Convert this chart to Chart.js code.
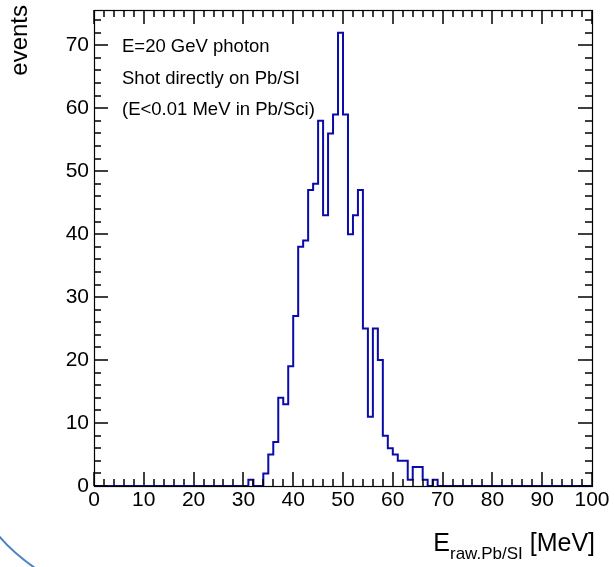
<!DOCTYPE html>
<html>
<head>
<meta charset="utf-8">
<script src="https://cdn.jsdelivr.net/npm/chart.js@4"></script>
<style>
html,body{margin:0;padding:0;background:#fff;}
canvas{display:block;}
</style>
</head>
<body>
<canvas id="c" width="614" height="567"></canvas>
<script>
// Histogram: 100 bins of width 1 MeV from 0 to 100
const binLow = 0;
const binHigh = 100;
const nBins = 100;
// non-zero bin contents (bin index -> events)
const filledBins =   [31, 34, 35, 36, 37, 38, 39, 40, 41, 42, 43, 44, 45, 46, 47, 48, 49, 50, 51, 52, 53, 54, 55, 56, 57, 58, 59, 60, 61, 62, 63, 64, 65, 66, 68];
const filledCounts = [ 1,  2,  5,  7, 14, 13, 19, 27, 38, 39, 47, 48, 58, 43, 56, 59, 72, 59, 40, 43, 47, 25, 11, 25, 20,  8,  6,  5,  4,  4,  1,  3,  3,  1,  1];
const xTickLabels = [0, 10, 20, 30, 40, 50, 60, 70, 80, 90, 100];
const yTickLabels = [0, 10, 20, 30, 40, 50, 60, 70];
const yMax = 75.6;
const infoLines = ["E=20 GeV photon", "Shot directly on Pb/SI", "(E<0.01 MeV in Pb/Sci)"];
const yTitle = "events";
const xTitleMain = "E";
const xTitleSub = "raw.Pb/SI";
const xTitleUnit = " [MeV]";

const counts = new Array(nBins).fill(0);
filledBins.forEach((b, i) => { counts[b] = filledCounts[i]; });
const points = [];
for (let i = 0; i < nBins; i++) points.push({x: binLow + i, y: counts[i]});
points.push({x: binHigh, y: counts[nBins - 1]});

const FONT = '"Liberation Sans", Arial, Helvetica, sans-serif';

function drawFrame(chart) {
  const ctx = chart.ctx, a = chart.chartArea;
  const xs = chart.scales.x, ys = chart.scales.y;
  const L = Math.round(a.left), R = Math.round(a.right), T = Math.round(a.top), B = Math.round(a.bottom);
  ctx.save();
  ctx.strokeStyle = '#000000';
  ctx.lineWidth = 1.5;
  ctx.setLineDash([]);
  ctx.lineCap = 'butt';
  ctx.beginPath();
  for (let k = 0; k <= 50; k++) {
    const v = binLow + 2 * k;
    const px = Math.round(xs.getPixelForValue(v));
    const len = (v % 10 === 0) ? 14 : 7;
    ctx.moveTo(px, B); ctx.lineTo(px, B - len);
    ctx.moveTo(px, T); ctx.lineTo(px, T + len);
  }
  for (let k = 0; k <= 37; k++) {
    const v = 2 * k;
    const py = Math.round(ys.getPixelForValue(v));
    const len = (v % 10 === 0) ? 14 : 7;
    ctx.moveTo(L, py); ctx.lineTo(L + len, py);
    ctx.moveTo(R, py); ctx.lineTo(R - len, py);
  }
  ctx.stroke();
  ctx.lineWidth = 1.2;
  ctx.strokeRect(L + 0.5, T + 0.5, R - L, B - T);
  ctx.restore();
}

const framePlugin = {
  id: 'frame',
  afterDraw(chart) {
    drawFrame(chart);
    const ctx = chart.ctx;
    ctx.save();
    ctx.fillStyle = '#000';
    // info text
    ctx.font = '18.5px ' + FONT;
    ctx.textAlign = 'left';
    ctx.textBaseline = 'alphabetic';
    infoLines.forEach((t, i) => ctx.fillText(t, 122, 52 + i * 31.5));
    // x title
    ctx.font = '25px ' + FONT;
    const wE = ctx.measureText(xTitleMain).width;
    const wU = ctx.measureText(xTitleUnit).width;
    ctx.font = '17px ' + FONT;
    const wS = ctx.measureText(xTitleSub).width;
    const right = 595;
    let x0 = right - (wE + wS + wU);
    ctx.font = '25px ' + FONT;
    ctx.fillText(xTitleMain, x0, 551);
    ctx.font = '17px ' + FONT;
    ctx.fillText(xTitleSub, x0 + wE, 559);
    ctx.font = '25px ' + FONT;
    ctx.fillText(xTitleUnit, x0 + wE + wS, 551);
    // y title
    ctx.save();
    ctx.translate(27, 5);
    ctx.rotate(-Math.PI / 2);
    ctx.font = '24px ' + FONT;
    ctx.textAlign = 'right';
    ctx.fillText(yTitle, 0, 0);
    ctx.restore();
    // decorative arc at bottom-left
    ctx.strokeStyle = '#4b82c6';
    ctx.lineWidth = 2;
    ctx.beginPath();
    ctx.moveTo(-2, 535);
    ctx.quadraticCurveTo(13, 553, 35, 568);
    ctx.stroke();
    ctx.restore();
  }
};

new Chart(document.getElementById('c'), {
  type: 'line',
  data: {
    datasets: [{
      data: points,
      stepped: 'before',
      borderColor: '#0b0baa',
      borderWidth: 2,
      pointRadius: 0,
      fill: false,
      tension: 0
    }]
  },
  options: {
    responsive: false,
    animation: false,
    devicePixelRatio: 1,
    layout: { padding: { left: 0, right: 22, top: 10, bottom: 0 } },
    plugins: { legend: { display: false }, tooltip: { enabled: false } },
    scales: {
      x: {
        type: 'linear', min: binLow, max: binHigh,
        afterBuildTicks: s => { s.ticks = xTickLabels.map(v => ({value: v})); },
        afterFit: s => { s.height = 81; s.paddingLeft = 0; s.paddingRight = 0; },
        grid: { display: false, drawTicks: false },
        border: { display: false },
        ticks: { color: '#000', font: { family: FONT, size: 21 }, padding: 2, maxRotation: 0, autoSkip: false }
      },
      y: {
        type: 'linear', min: 0, max: yMax,
        afterBuildTicks: s => { s.ticks = yTickLabels.map(v => ({value: v})); },
        afterFit: s => { s.width = 94; s.paddingTop = 0; s.paddingBottom = 0; },
        grid: { display: false, drawTicks: false },
        border: { display: false },
        ticks: { color: '#000', font: { family: FONT, size: 21 }, padding: 5 }
      }
    }
  },
  plugins: [framePlugin]
});
</script>
</body>
</html>
